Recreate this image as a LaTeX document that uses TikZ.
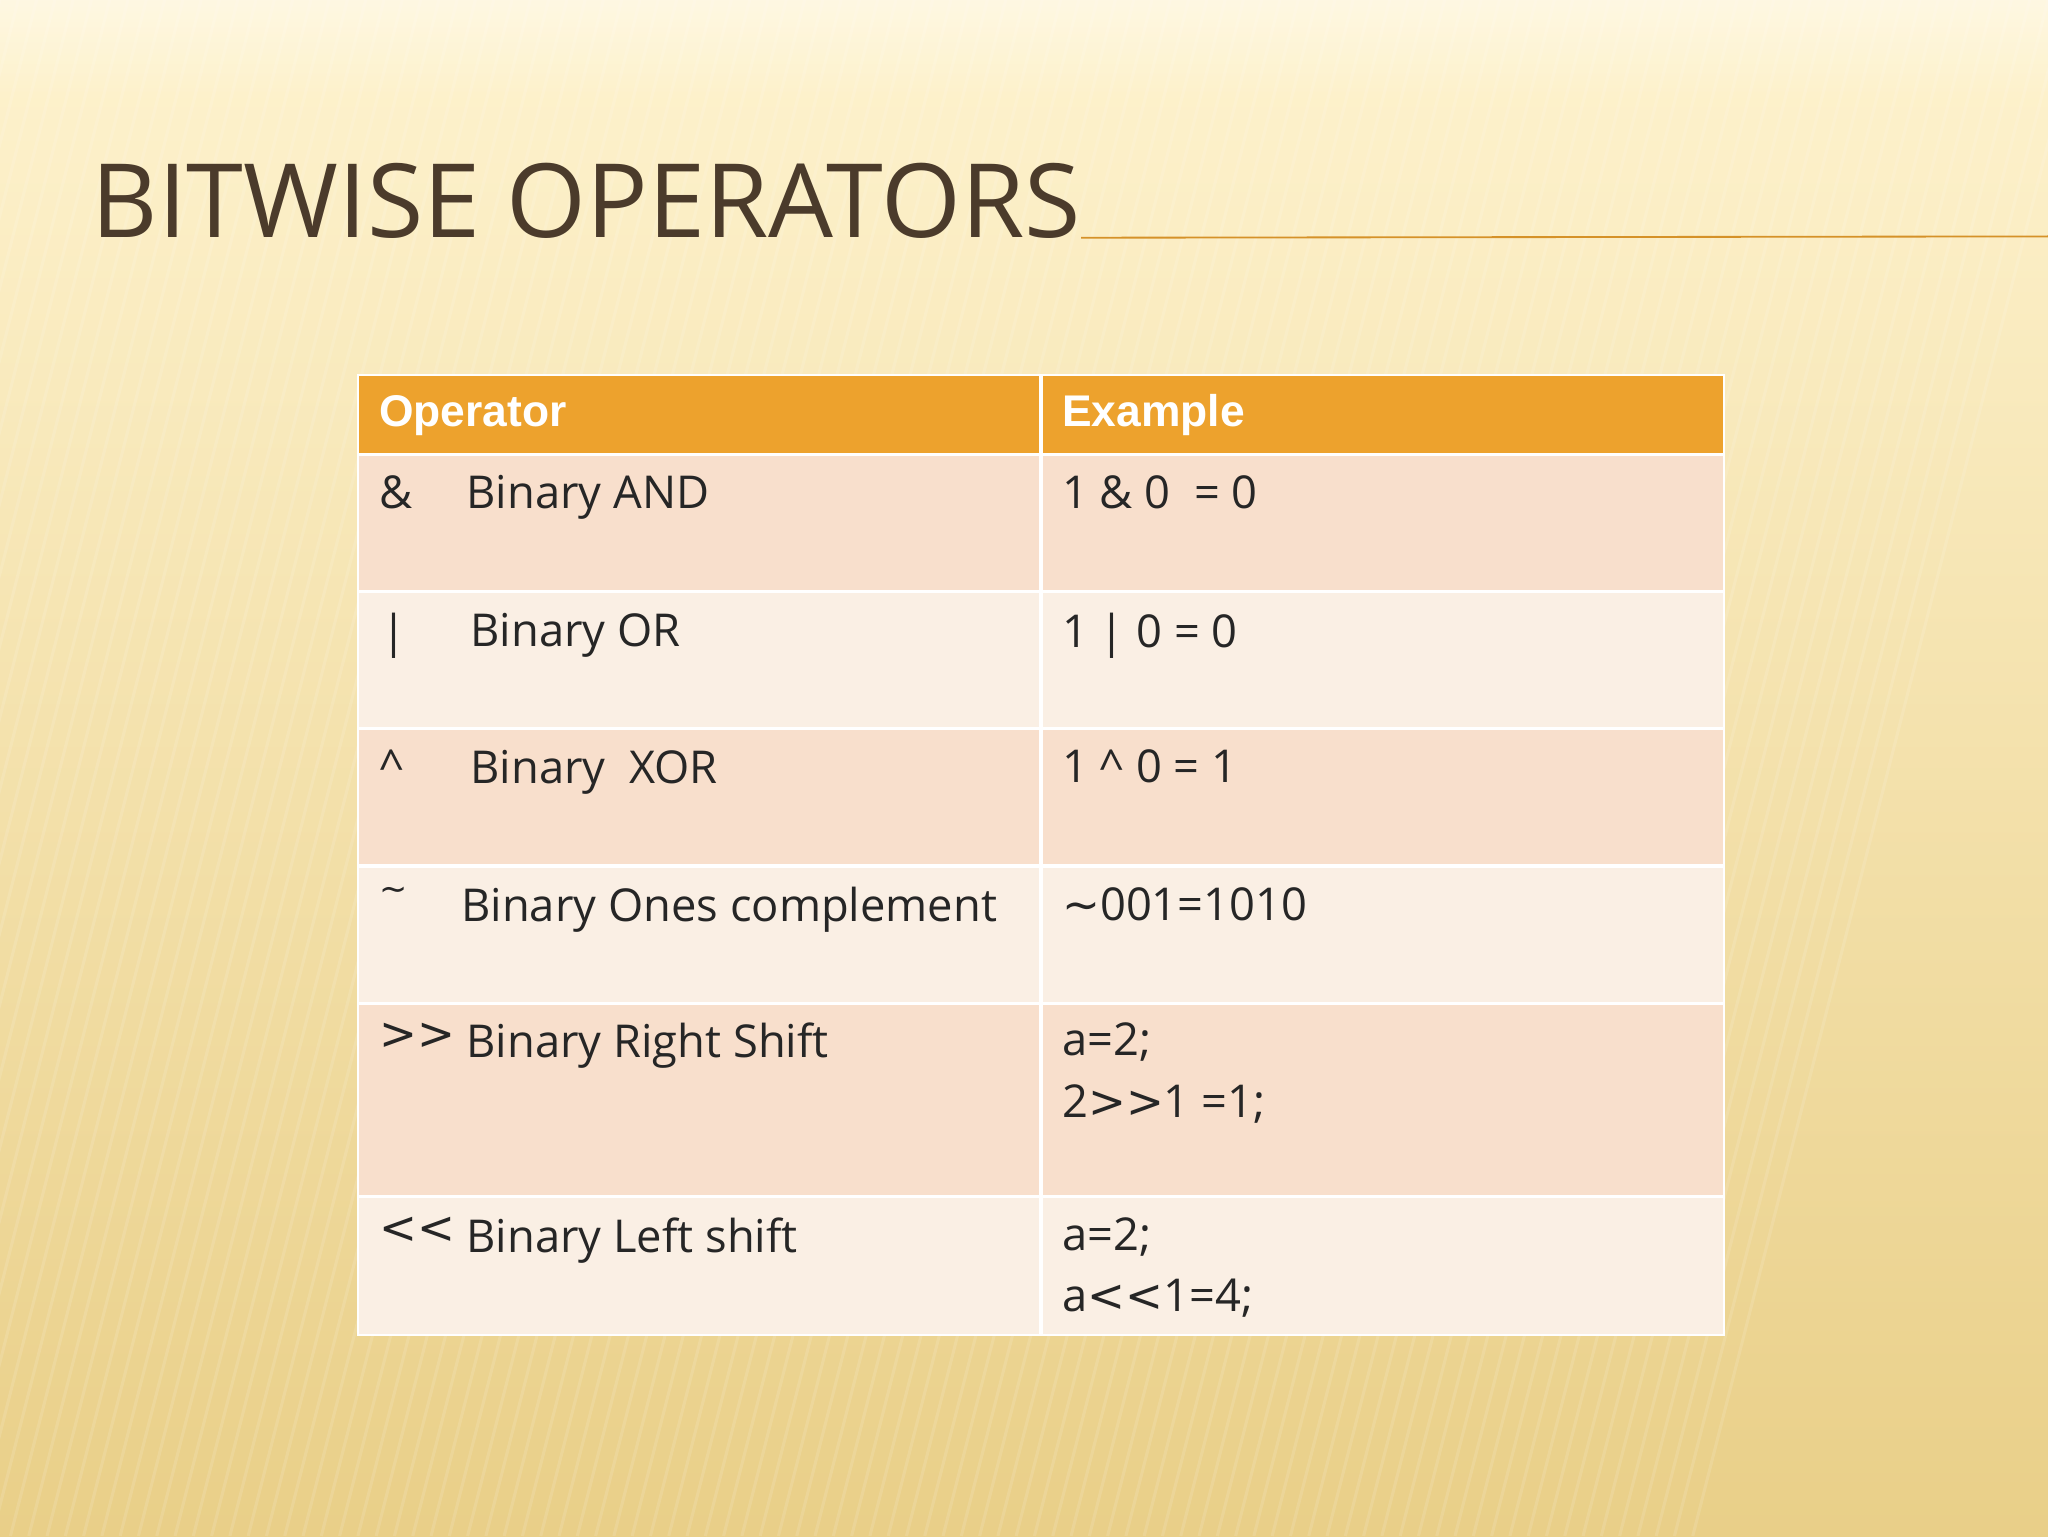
\documentclass[tikz,border=0pt]{standalone}
\usepackage{fontspec}
\setmainfont{Open Sans}[Ligatures=NoCommon]
\newfontfamily\hdrfont{Liberation Sans}
\newfontfamily\symf{DejaVu Sans}[Ligatures=NoCommon]
\begin{document}
\begin{tikzpicture}[x=0.3mm,y=-0.3mm,
  cell/.style={anchor=north west,inner sep=0pt,font=\fontsize{29.6}{40}\selectfont,text=black!85},
  hdr/.style={anchor=west,inner sep=0pt,font=\hdrfont\bfseries\fontsize{29}{36}\selectfont,text=white}]
\definecolor{bgtop}{HTML}{FEF3CF}
\definecolor{bgbot}{HTML}{E9CF88}
\definecolor{hd}{HTML}{EDA22D}
\definecolor{ra}{HTML}{F8DFCC}
\definecolor{rb}{HTML}{FAEFE4}
\definecolor{tt}{HTML}{4B3B2B}
\useasboundingbox (0,0) rectangle (1568,1176);
\shade[top color=bgtop,bottom color=bgbot] (0,0) rectangle (1568,1176);
\shade[top color=white,bottom color=bgtop,opacity=0.4] (0,0) rectangle (1568,70);
\foreach \i in {0,14,...,1600} {\draw[white,opacity=0.12,line width=2pt] (\i-300,1176) -- (\i,0);}
\node[anchor=base west,inner sep=0pt,text=tt,font=\fontsize{67}{75}\selectfont] (title) at (70,182) {BITWISE OPERATORS};
\coordinate (l1) at (title.base east);
\coordinate (l2) at (1568,181);
\draw[color=hd!90!black,line width=1.2pt] (l1) -- (l2);
% table
\fill[hd] (274,287) rectangle (1320,348);
\fill[ra] (274,348) rectangle (1320,453);
\fill[rb] (274,453) rectangle (1320,558);
\fill[ra] (274,558) rectangle (1320,663);
\fill[rb] (274,663) rectangle (1320,768);
\fill[ra] (274,768) rectangle (1320,916);
\fill[rb] (274,916) rectangle (1320,1022);
\foreach \y in {348,453,558,663,768,916} {\draw[white,line width=2pt] (274,\y) -- (1320,\y);}
\draw[white,line width=2pt] (797,287) -- (797,1022);
\draw[white,line width=1pt] (274,287) rectangle (1320,1022);
\node[hdr] (h1) at (290,318) {Operator};
\node[hdr] (h2) at (813,318) {Example};
\node[cell] (s1) at (290,364) {\&};
\node[cell] (o1) at (357,364) {Binary AND};
\node[cell] (e1) at (813,364) {1 \& 0 \ = 0};
\node[cell] (s2) at (292,469) {|};
\node[cell] (o2) at (360,469) {Binary OR};
\node[cell] (e2) at (813,469) {1 | 0 = 0};
\node[cell] (s3) at (290,574) {\textasciicircum};
\node[cell] (o3) at (360,574) {Binary \ XOR};
\node[cell] (e3) at (813,574) {1 \textasciicircum\ 0 = 1};
\node[cell] (s4) at (290,679) {{\symf\fontsize{22}{30}\selectfont\char"007E}};
\node[cell] (o4) at (353,679) {Binary Ones complement};
\node[cell] (e4) at (813,679) {{\symf\char"007E}001=1010};
\node[cell] (s5) at (290,783) {{\symf>{}>}};
\node[cell] (o5) at (357,783) {Binary Right Shift};
\node[cell,align=left] (e5) at (813,783) {a=2;\\2{\symf>{}>}1 =1;};
\node[cell] (s6) at (290,932) {{\symf<{}<}};
\node[cell] (o6) at (357,932) {Binary Left shift};
\node[cell,align=left] (e6) at (813,932) {a=2;\\a{\symf<{}<}1=4;};
\end{tikzpicture}
\end{document}
